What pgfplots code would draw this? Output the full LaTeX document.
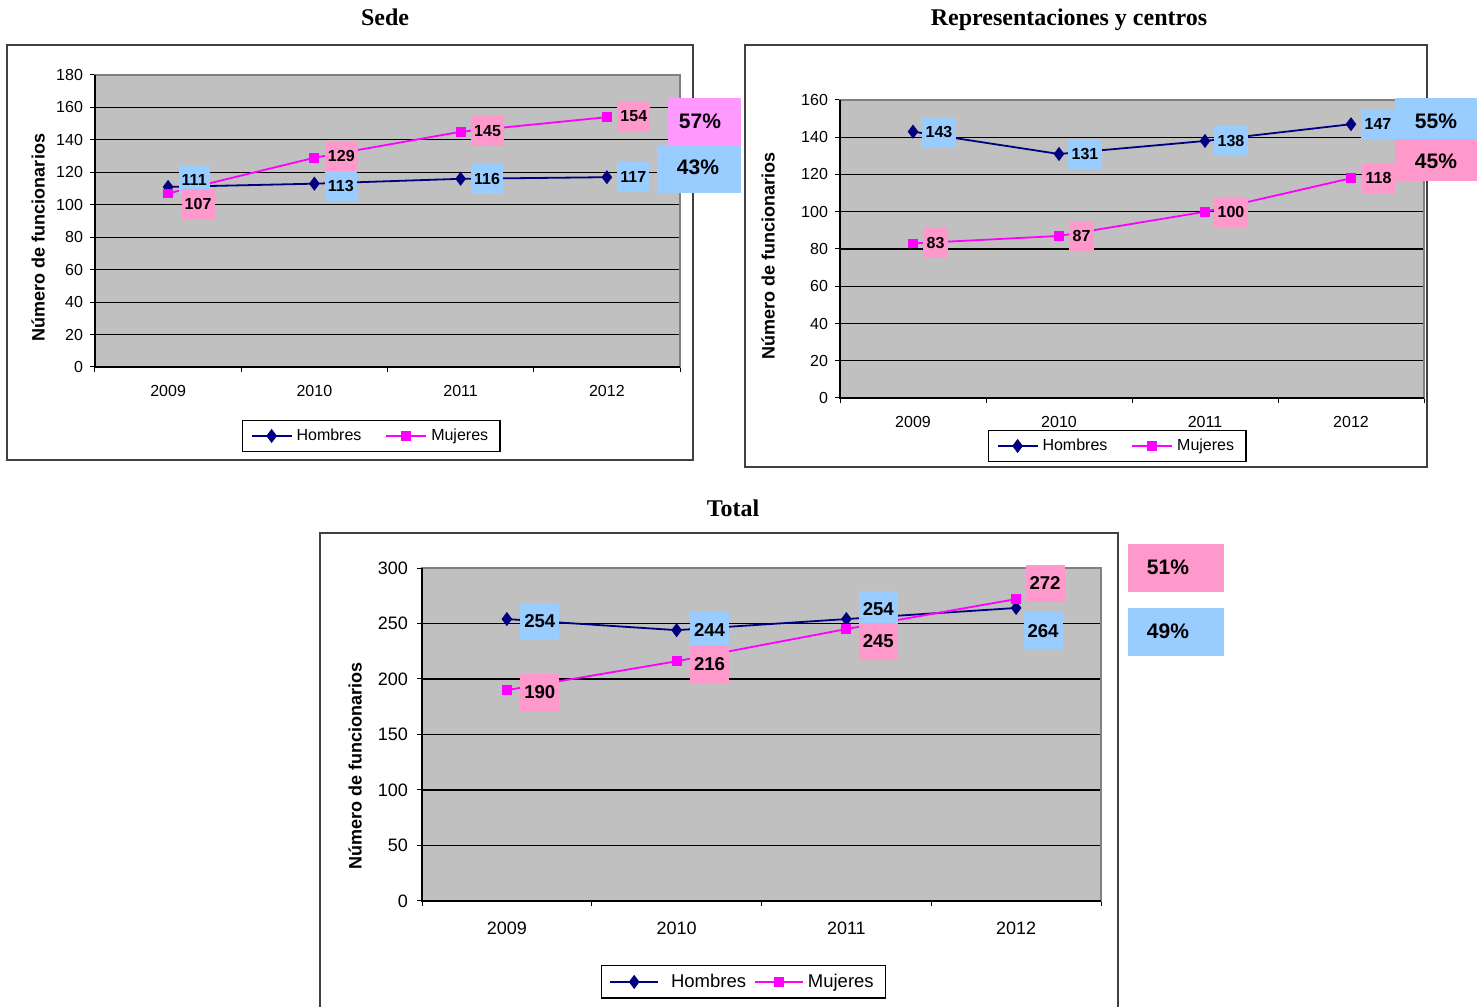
\documentclass[border=0pt]{standalone}
\usepackage{fontspec}
\setmainfont{Liberation Sans}
\newfontfamily\serifb{Liberation Serif}
\usepackage{pgfplots}
\pgfplotsset{compat=1.18}

\definecolor{plotbg}{HTML}{C0C0C0}
\definecolor{hom}{HTML}{000080}
\definecolor{muj}{HTML}{FF00FF}
\definecolor{lpink}{HTML}{FF99CC}
\definecolor{lblue}{HTML}{99CCFF}
\definecolor{lmag}{HTML}{FF99FF}

\pgfplotsset{
  panel/.style={
    scale only axis, clip=false,
    xmin=-0.5, xmax=3.5, ymin=0,
    xtick={0,1,2,3}, xticklabels={2009,2010,2011,2012},
    minor xtick={-0.5,0.5,1.5,2.5,3.5},
    major x tick style={draw=none},
    tick align=outside, xtick pos=bottom, ytick pos=left,
    major tick length=2.5pt, minor tick length=2.5pt,
    tick style={black, line width=0.5pt},
    ymajorgrids, grid style={black, line width=0.6pt},
    axis background/.style={fill=plotbg},
    axis line style={draw=gray, line width=1pt},
    /pgf/number format/assume math mode=true,
    legend columns=2,
    legend cell align=left,
    legend image code/.code={\draw[mark repeat=2,mark phase=2,##1] plot coordinates {(0pt,0pt)(10pt,0pt)(20pt,0pt)};},
    legend style={draw=black, line width=0.7pt, anchor=center, inner xsep=4pt, inner ysep=2pt,
      /tikz/every even column/.append style={column sep=10pt}},
    ylabel={Número de funcionarios},
    ylabel style={anchor=center, font=\bfseries\fontsize{9}{9}\selectfont},
  },
  hom/.style={color=hom, line width=0.9pt, mark=diamond*, mark size=2.8pt, mark options={solid}},
  muj/.style={color=muj, line width=0.9pt, mark=square*, mark size=2pt, mark options={solid}},
}
\tikzset{
  lab/.style={font=\bfseries\fontsize{8}{8}\selectfont, inner xsep=1.6pt, inner ysep=0pt, minimum height=15pt, anchor=west, text=black},
  labT/.style={font=\bfseries\fontsize{9.3}{9.3}\selectfont, inner xsep=2pt, inner ysep=0pt, minimum height=18.5pt, anchor=west, text=black},
  pct/.style={font=\bfseries\fontsize{10.5}{10.5}\selectfont, text=black},
  ttl/.style={font=\serifb\bfseries\fontsize{12}{12}\selectfont, anchor=base, inner sep=0pt},
}

\begin{document}
\begin{tikzpicture}
\useasboundingbox (0pt,0pt) rectangle (739.5pt,503.5pt);
\fill[white] (0pt,0pt) rectangle (739.5pt,503.5pt);

% chart frames
\draw[black!75, line width=0.6pt] (3.5pt,273.5pt) rectangle (346.5pt,481pt);
\draw[black!75, line width=0.6pt] (372.5pt,270pt) rectangle (713.5pt,481pt);
\draw[black!75, line width=0.6pt] (160pt,-2pt) -- (160pt,237pt) -- (559pt,237pt) -- (559pt,-2pt);

% titles
\node[ttl] at (192.5pt,490.5pt) {Sede};
\node[ttl] at (534.5pt,490.5pt) {Representaciones y centros};
\node[ttl] at (366.5pt,245pt) {Total};

% ---------------- Sede ----------------
\begin{axis}[panel,
  at={(47.5pt,320pt)}, anchor=south west,
  width=292.5pt, height=146pt,
  ymax=180, ytick={0,20,...,180},
  ticklabel style={font=\fontsize{8}{8}\selectfont},
  xticklabel style={yshift=-3pt},
  ylabel style={at={(rel axis cs:-0.0974,0.4435)}},
  legend style={at={(0.4726,-0.236)}, font=\fontsize{8}{8}\selectfont},
]
\addplot[hom] coordinates {(0,111) (1,113) (2,116) (3,117)};
\addlegendentry{Hombres}
\addplot[muj] coordinates {(0,107) (1,129) (2,145) (3,154)};
\addlegendentry{Mujeres}
\draw[black, line width=0.8pt] (rel axis cs:0,1) -- (rel axis cs:0,0) -- (rel axis cs:1,0);
\node[lab, fill=lblue, xshift=5pt, yshift=3.5pt] at (axis cs:0,111) {111};
\node[lab, fill=lblue, xshift=5pt, yshift=-1pt] at (axis cs:1,113) {113};
\node[lab, fill=lblue, xshift=5pt] at (axis cs:2,116) {116};
\node[lab, fill=lblue, xshift=5pt] at (axis cs:3,117) {117};
\node[lab, fill=lpink, xshift=6.5pt, yshift=-5.5pt] at (axis cs:0,107) {107};
\node[lab, fill=lpink, xshift=5pt, yshift=1pt] at (axis cs:1,129) {129};
\node[lab, fill=lpink, xshift=5pt, yshift=0.5pt] at (axis cs:2,145) {145};
\node[lab, fill=lpink, xshift=5pt, yshift=0.5pt] at (axis cs:3,154) {154};
\end{axis}

% ---------------- Representaciones ----------------
\begin{axis}[panel,
  at={(420pt,304.5pt)}, anchor=south west,
  width=292pt, height=149pt,
  ymax=160, ytick={0,20,...,160},
  ticklabel style={font=\fontsize{8}{8}\selectfont},
  xticklabel style={yshift=-3pt},
  ylabel style={at={(rel axis cs:-0.123,0.475)}},
  legend style={at={(0.475,-0.161)}, font=\fontsize{8}{8}\selectfont},
]
\addplot[hom] coordinates {(0,143) (1,131) (2,138) (3,147)};
\addlegendentry{Hombres}
\addplot[muj] coordinates {(0,83) (1,87) (2,100) (3,118)};
\addlegendentry{Mujeres}
\draw[black, line width=0.8pt] (rel axis cs:0,1) -- (rel axis cs:0,0) -- (rel axis cs:1,0);
\node[lab, fill=lblue, xshift=4.5pt] at (axis cs:0,143) {143};
\node[lab, fill=lblue, xshift=4.5pt] at (axis cs:1,131) {131};
\node[lab, fill=lblue, xshift=4.5pt] at (axis cs:2,138) {138};
\node[lab, fill=lblue, xshift=5pt] at (axis cs:3,147) {147};
\node[lab, fill=lpink, xshift=5pt] at (axis cs:0,83) {83};
\node[lab, fill=lpink, xshift=5pt] at (axis cs:1,87) {87};
\node[lab, fill=lpink, xshift=4.5pt] at (axis cs:2,100) {100};
\node[lab, fill=lpink, xshift=5.5pt] at (axis cs:3,118) {118};
\end{axis}

% ---------------- Total ----------------
\begin{axis}[panel,
  at={(211pt,53pt)}, anchor=south west,
  width=339.5pt, height=166.5pt,
  ymax=300, ytick={0,50,...,300},
  ticklabel style={font=\fontsize{9}{9}\selectfont},
  xticklabel style={yshift=-4.3pt},
  yticklabel style={xshift=-1pt},
  ylabel style={at={(rel axis cs:-0.0987,0.404)}},
  legend style={at={(0.4735,-0.243)}, font=\fontsize{9.25}{9.25}\selectfont,
    /tikz/every even column/.append style={column sep=2pt}},
  legend image code/.code={\draw[mark repeat=2,mark phase=2,#1] plot coordinates {(0pt,0pt)(12pt,0pt)(24pt,0pt)};},
]
\addplot[hom] coordinates {(0,254) (1,244) (2,254) (3,264)};
\addlegendentry{\hspace{4pt}Hombres}
\addplot[muj] coordinates {(0,190) (1,216) (2,245) (3,272)};
\addlegendentry{Mujeres}
\draw[black, line width=0.8pt] (rel axis cs:0,1) -- (rel axis cs:0,0) -- (rel axis cs:1,0);
\node[labT, fill=lblue, xshift=6.5pt, yshift=-1pt] at (axis cs:0,254) {254};
\node[labT, fill=lblue, xshift=6.5pt] at (axis cs:1,244) {244};
\node[labT, fill=lblue, xshift=6pt, yshift=5pt] at (axis cs:2,254) {254};
\node[labT, fill=lblue, xshift=3.5pt, yshift=-11.5pt] at (axis cs:3,264) {264};
\node[labT, fill=lpink, xshift=6.5pt, yshift=-1pt] at (axis cs:0,190) {190};
\node[labT, fill=lpink, xshift=6.5pt, yshift=-1.5pt] at (axis cs:1,216) {216};
\node[labT, fill=lpink, xshift=6pt, yshift=-6pt] at (axis cs:2,245) {245};
\node[labT, fill=lpink, xshift=4.5pt, yshift=8pt] at (axis cs:3,272) {272};
\end{axis}

% percentage boxes
\fill[lblue] (328.5pt,407pt) rectangle (370.5pt,430.5pt);
\fill[lmag] (334pt,430.5pt) rectangle (370.5pt,454.5pt);
\node[pct] at (350pt,443pt) {57\%};
\node[pct] at (349pt,420pt) {43\%};

\fill[lblue] (697.5pt,434pt) rectangle (738.5pt,454.5pt);
\fill[lpink] (697.5pt,413pt) rectangle (738.5pt,434pt);
\node[pct] at (718pt,443pt) {55\%};
\node[pct] at (718pt,423pt) {45\%};

\fill[lpink] (564pt,207.5pt) rectangle (612pt,231.5pt);
\fill[lblue] (564pt,175.5pt) rectangle (612pt,199.5pt);
\node[pct] at (584pt,220pt) {51\%};
\node[pct] at (584pt,188pt) {49\%};
\end{tikzpicture}
\end{document}
